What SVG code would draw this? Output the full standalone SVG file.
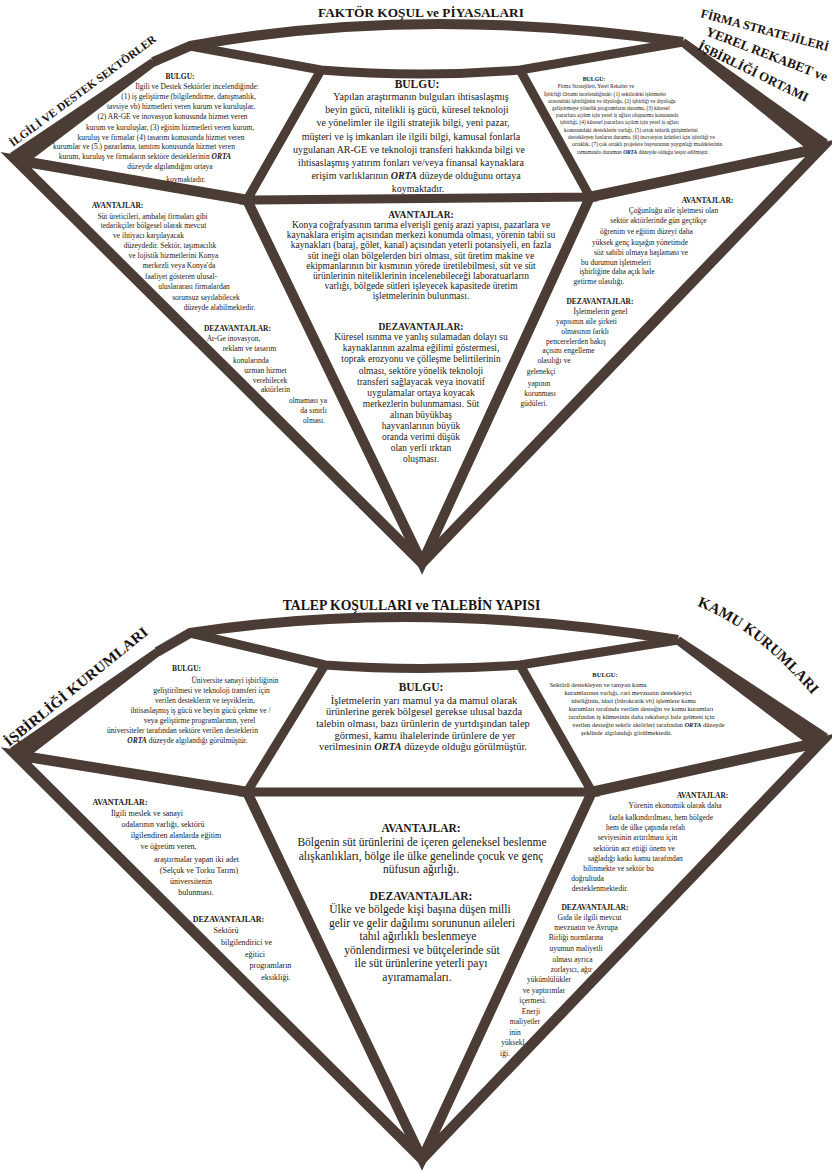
<svg xmlns="http://www.w3.org/2000/svg" width="832" height="1172" viewBox="0 0 832 1172">
<style>
.e{fill:none;stroke:#4b3d35;stroke-linejoin:miter;stroke-miterlimit:10;stroke-linecap:butt}
.w{fill:#4b3d35}
text{font-family:"Liberation Serif","Times New Roman",serif;fill:#231915}
.b{font-weight:bold}
.o{font-weight:bold;font-style:italic}
.lbl{font-weight:bold;fill:#1a1310}
.m{text-anchor:middle}
</style>
<defs>
<path id="kamuPath" d="M697,606 Q757,628 821,705"/>
</defs>
<rect width="832" height="1172" fill="#ffffff"/>

<g id="connectors">
  <!-- top diamond frame -->
  <path class="e" stroke-width="10" d="M153,62 L190,46 Q418,4 683,42"/>
  <path class="e" stroke-width="9" d="M190,46 L321,70 Q420,78 520,70 L683,42"/>
  <polygon class="w" points="10,153 151,58.5 156,65.5 22,167"/>
  <polygon class="w" points="685,38.5 828,140 815,156 680,45.5"/>
  <path class="e" stroke-width="9" d="M321,70 L247,200 L590,197 L520,70"/>
  <path class="e" stroke-width="10.5" d="M247,200 L16,160 L422,563 L821,148 L590,197"/>
  <path class="e" stroke-width="10" d="M247,200 L422,563 L590,197"/>
  <!-- bottom diamond frame -->
  <path class="e" stroke-width="10" d="M157,652 L190,633 Q420,598 678,640"/>
  <path class="e" stroke-width="9" d="M190,633 L325,665 Q420,672 520,665 L678,640"/>
  <polygon class="w" points="10,748 155,648.5 160,655.5 22,762"/>
  <polygon class="w" points="680,636.5 828,734 815,750 675,643.5"/>
  <path class="e" stroke-width="9" d="M325,665 L247,792 L592,792 L520,665"/>
  <path class="e" stroke-width="10.5" d="M247,792 L16,755 L422,1159 L821,742 L592,792"/>
  <path class="e" stroke-width="10" d="M247,792 L422,1159 L592,792"/>
</g>

<g id="title-top">
  <text class="lbl m" x="421" y="17" font-size="13.3">FAKTÖR KOŞUL ve PİYASALARI</text>
</g>
<g id="label-ilgili">
  <text class="lbl" transform="translate(13,147) rotate(-36.5)" font-size="11.3" textLength="179" lengthAdjust="spacingAndGlyphs">İLGİLİ VE DESTEK SEKTÖRLER</text>
</g>
<g id="label-firma">
  <text class="lbl" transform="translate(700,17) rotate(15)" font-size="12.2">FİRMA STRATEJİLERİ</text>
  <text class="lbl" transform="translate(705,35) rotate(21)" font-size="13.3">YEREL REKABET ve</text>
  <text class="lbl" transform="translate(697,49) rotate(26)" font-size="13">İŞBİRLİĞİ ORTAMI</text>
</g>

<g id="top-bulgu-ilgili" font-size="7.5">
  <text class="b m" x="180" y="79.4">BULGU:</text>
  <text class="m" x="197" y="89.4">İlgili ve Destek Sektörler incelendiğinde:</text>
  <text class="m" x="188.5" y="99.4">(1) iş geliştirme (bilgilendirme, danışmanlık,</text>
  <text class="m" x="181" y="109.4">tavsiye vb) hizmetleri veren kurum ve kuruluşlar,</text>
  <text class="m" x="172.5" y="119.4">(2) AR-GE ve inovasyon konusunda hizmet veren</text>
  <text class="m" x="170" y="129.9">kurum ve kuruluşlar, (3) eğitim hizmetleri veren kurum,</text>
  <text class="m" x="161" y="139.6">kuruluş ve firmalar (4) tasarım konusunda hizmet veren</text>
  <text class="m" x="144" y="149.4">kurumlar ve (5.) pazarlama, tanıtım konusunda hizmet veren</text>
  <text class="m" x="145" y="159.2">kurum, kuruluş ve firmaların sektöre desteklerinin <tspan class="o">ORTA</tspan></text>
  <text class="m" x="170" y="169">düzeyde algılandığını ortaya</text>
  <text class="m" x="186" y="181.5">koymaktadır.</text>
</g>

<g id="top-bulgu-faktor" font-size="10">
  <text class="b m" x="417" y="87.5" font-size="11.5">BULGU:</text>
  <text class="m" x="421" y="100.4">Yapılan araştırmanın bulguları ihtisaslaşmış</text>
  <text class="m" x="417" y="113.4">beyin gücü, nitelikli iş gücü, küresel teknoloji</text>
  <text class="m" x="413" y="126.4">ve yönelimler ile ilgili stratejik bilgi, yeni pazar,</text>
  <text class="m" x="411" y="140.4">müşteri ve iş imkanları ile ilgili bilgi, kamusal fonlarla</text>
  <text class="m" x="409" y="153.4">uygulanan AR-GE ve teknoloji transferi hakkında bilgi ve</text>
  <text class="m" x="411" y="166.4">ihtisaslaşmış yatırım fonları ve/veya finansal kaynaklara</text>
  <text class="m" x="416" y="179.4">erişim varlıklarının <tspan class="o">ORTA</tspan> düzeyde olduğunu ortaya</text>
  <text class="m" x="418" y="192.4">koymaktadır.</text>
</g>

<g id="top-bulgu-firma" font-size="5.4">
  <text class="b m" x="594" y="80.9" font-size="5.8">BULGU:</text>
  <text class="m" x="596" y="87.9">Firma Stratejileri, Yerel Rekabet ve</text>
  <text x="544" y="95.9">İşbirliği Ortamı incelendiğinde: (1) sektördeki işletmeler</text>
  <text x="548" y="102.9">arasındaki işbirliğinin ve diyaloğu, (2) işbirliği ve diyaloğu</text>
  <text x="552" y="109.9">geliştirmeye yönelik programların durumu, (3) küresel</text>
  <text x="556" y="116.9">pazarlara açılım için yerel iş ağları oluşturma konusunda</text>
  <text x="560" y="123.9">işbirliği, (4) küresel pazarlara açılım için yerel iş ağları</text>
  <text x="564" y="131.9">konusundaki desteklerin varlığı, (5) ortak tedarik girişimlerini</text>
  <text x="568" y="138.9">destekleyen fonların durumu, (6) inovasyon ürünleri için işbirliği ve</text>
  <text x="572" y="145.9">ortaklık, (7) çok ortaklı projelere başvurunun yaygınlığı maddelerinin</text>
  <text x="577" y="153.9">tamamında durumun <tspan class="o">ORTA</tspan> düzeyde olduğu tespit edilmiştir.</text>
</g>

<g id="top-avantaj-ilgili" font-size="7.5">
  <text class="b m" x="117.5" y="207.5">AVANTAJLAR:</text>
  <text class="m" x="152.5" y="218.5">Süt üreticileri, ambalaj firmaları gibi</text>
  <text class="m" x="153.5" y="227.5">tedarikçiler bölgesel olarak mevcut</text>
  <text class="m" x="148.5" y="237.5">ve ihtiyacı karşılayacak</text>
  <text class="m" x="170" y="247.5">düzeydedir. Sektör, taşımacılık</text>
  <text class="m" x="173.5" y="257.5">ve lojistik hizmetlerini Konya</text>
  <text class="m" x="179" y="267.5">merkezli veya Konya'da</text>
  <text class="m" x="181" y="278.5">faaliyet gösteren ulusal-</text>
  <text class="m" x="194" y="288.5">uluslararası firmalardan</text>
  <text class="m" x="206" y="299.5">sorunsuz sayılabilecek</text>
  <text class="m" x="219.5" y="309.5">düzeyde alabilmektedir.</text>
  <text class="b m" x="237.5" y="330.5">DEZAVANTAJLAR:</text>
  <text class="m" x="233.5" y="340.5">Ar-Ge inovasyon,</text>
  <text class="m" x="249.5" y="350.5">reklam ve tasarım</text>
  <text class="m" x="251" y="362.5">konularında</text>
  <text class="m" x="265.5" y="372.5">uzman hizmet</text>
  <text class="m" x="270" y="382.5">verebilecek</text>
  <text class="m" x="275.5" y="391.5">aktörlerin</text>
  <text class="m" x="308" y="402.5">olmaması ya</text>
  <text class="m" x="313.5" y="412.5">da sınırlı</text>
  <text class="m" x="314" y="422.5">olması.</text>
</g>

<g id="top-avantaj-faktor" font-size="9.5">
  <text class="b m" x="421" y="218.2">AVANTAJLAR:</text>
  <text class="m" x="421" y="228.2">Konya coğrafyasının tarıma elverişli geniş arazi yapısı, pazarlara ve</text>
  <text class="m" x="421" y="238.3">kaynaklara erişim açısından merkezi konumda olması, yörenin tabii su</text>
  <text class="m" x="421" y="248.4">kaynakları (baraj, gölet, kanal) açısından yeterli potansiyeli, en fazla</text>
  <text class="m" x="421" y="258.5">süt ineği olan bölgelerden biri olması, süt üretim makine ve</text>
  <text class="m" x="421" y="268.6">ekipmanlarının bir kısmının yörede üretilebilmesi, süt ve süt</text>
  <text class="m" x="421" y="278.7">ürünlerinin niteliklerinin incelenebileceği laboratuarların</text>
  <text class="m" x="421" y="288.8">varlığı, bölgede sütleri işleyecek kapasitede üretim</text>
  <text class="m" x="421" y="298.9">işletmelerinin bulunması.</text>
  <text class="b m" x="421" y="330.2">DEZAVANTAJLAR:</text>
  <text class="m" x="421" y="340.2">Küresel ısınma ve yanlış sulamadan dolayı su</text>
  <text class="m" x="421" y="351.3">kaynaklarının azalma eğilimi göstermesi,</text>
  <text class="m" x="421" y="362.4">toprak erozyonu ve çölleşme belirtilerinin</text>
  <text class="m" x="421" y="373.5">olması, sektöre yönelik teknoloji</text>
  <text class="m" x="421" y="384.6">transferi sağlayacak veya inovatif</text>
  <text class="m" x="421" y="395.7">uygulamalar ortaya koyacak</text>
  <text class="m" x="421" y="406.8">merkezlerin bulunmaması. Süt</text>
  <text class="m" x="421" y="417.9">alınan büyükbaş</text>
  <text class="m" x="421" y="429">hayvanlarının büyük</text>
  <text class="m" x="421" y="440.1">oranda verimi düşük</text>
  <text class="m" x="421" y="451.2">olan yerli ırktan</text>
  <text class="m" x="421" y="462.3">oluşması.</text>
</g>

<g id="top-avantaj-firma" font-size="7.5">
  <text class="b m" x="707.5" y="202.5">AVANTAJLAR:</text>
  <text class="m" x="673.5" y="212.5">Çoğunluğu aile işletmesi olan</text>
  <text class="m" x="658.5" y="222.5">sektör aktörlerinde gün geçtikçe</text>
  <text class="m" x="646.5" y="233.5">öğrenim ve eğitim düzeyi daha</text>
  <text class="m" x="640" y="244.5">yüksek genç kuşağın yönetimde</text>
  <text class="m" x="641" y="254.5">söz sahibi olmaya başlaması ve</text>
  <text class="m" x="616" y="264.5">bu durumun işletmeleri</text>
  <text class="m" x="617" y="273.5">işbirliğine daha açık hale</text>
  <text class="m" x="599" y="283.5">getirme olasılığı.</text>
  <text class="b m" x="600" y="303.5">DEZAVANTAJLAR:</text>
  <text class="m" x="600.5" y="313.5">İşletmelerin genel</text>
  <text class="m" x="586.5" y="323.5">yapısının aile şirketi</text>
  <text class="m" x="585" y="333.5">olmasının farklı</text>
  <text class="m" x="576" y="343.5">pencerelerden bakış</text>
  <text class="m" x="568.5" y="352.5">açısını engelleme</text>
  <text class="m" x="554" y="362.5">olasılığı ve</text>
  <text class="m" x="541" y="373.5">gelenekçi</text>
  <text class="m" x="539" y="385.5">yapının</text>
  <text class="m" x="540" y="395.5">korunması</text>
  <text class="m" x="534" y="405.5">güdüleri.</text>
</g>

<g id="title-bottom">
  <text class="lbl m" x="411.5" y="610" font-size="13.7">TALEP KOŞULLARI ve TALEBİN YAPISI</text>
</g>
<g id="label-isbirligi">
  <text class="lbl" transform="translate(9,747) rotate(-39)" font-size="14.5" textLength="180" lengthAdjust="spacingAndGlyphs">İŞBİRLİĞİ KURUMLARI</text>
</g>
<g id="label-kamu">
  <text class="lbl" font-size="15"><textPath href="#kamuPath">KAMU KURUMLARI</textPath></text>
</g>

<g id="bottom-bulgu-isbirligi" font-size="7.5">
  <text class="b m" x="186.5" y="670.5">BULGU:</text>
  <text class="m" x="235" y="682.5">Üniversite sanayi işbirliğinin</text>
  <text class="m" x="211.5" y="692.5">geliştirilmesi ve teknoloji transferi için</text>
  <text class="m" x="205" y="702.5">verilen desteklerin ve teşviklerin,</text>
  <text class="m" x="200.5" y="712.5">ihtisaslaşmış iş gücü ve beyin gücü çekme ve /</text>
  <text class="m" x="199.5" y="722.5">veya geliştirme programlarının, yerel</text>
  <text class="m" x="182.5" y="732.5">üniversiteler tarafından sektöre verilen desteklerin</text>
  <text class="m" x="187.5" y="742.5"><tspan class="o">ORTA</tspan> düzeyde algılandığı görülmüştür.</text>
</g>

<g id="bottom-bulgu-talep" font-size="10.5">
  <text class="b m" x="421" y="691" font-size="11.5">BULGU:</text>
  <text class="m" x="424" y="703.5">İşletmelerin yarı mamul ya da mamul olarak</text>
  <text class="m" x="424" y="715.2">ürünlerine gerek bölgesel gerekse ulusal bazda</text>
  <text class="m" x="423" y="726.9">talebin olması, bazı ürünlerin de yurtdışından talep</text>
  <text class="m" x="425" y="738.6">görmesi,  kamu ihalelerinde ürünlere de yer</text>
  <text class="m" x="423" y="750.3">verilmesinin <tspan class="o">ORTA</tspan> düzeyde olduğu görülmüştür.</text>
</g>

<g id="bottom-bulgu-kamu" font-size="6.5">
  <text class="b m" x="605" y="677.2">BULGU:</text>
  <text class="m" x="598" y="687.2">Sektörü destekleyen ve tanıyan kamu</text>
  <text class="m" x="628" y="695.2">kurumlarının varlığı, cari mevzuatın destekleyici</text>
  <text class="m" x="633.5" y="702.7">niteliğinin, idari (bürokratik vb) işlemlere kamu</text>
  <text class="m" x="641" y="710.7">kurumları tarafında verilen desteğin ve kamu kurumları</text>
  <text class="m" x="641.5" y="719.2">tarafından iş kümesinin daha rekabetçi hale gelmesi için</text>
  <text class="m" x="648.5" y="727.2">verilen desteğin sektör aktörleri tarafından <tspan class="o">ORTA</tspan> düzeyde</text>
  <text class="m" x="626.5" y="735.2">şeklinde algılandığı görülmektedir.</text>
</g>

<g id="bottom-avantaj-isbirligi" font-size="8">
  <text class="b m" x="120" y="804.7">AVANTAJLAR:</text>
  <text class="m" x="147" y="815.7">İlgili meslek ve sanayi</text>
  <text class="m" x="163" y="826.7">odalarının varlığı, sektörü</text>
  <text class="m" x="176" y="837.7">ilgilendiren alanlarda eğitim</text>
  <text class="m" x="168.5" y="848.7">ve öğretim veren,</text>
  <text class="m" x="196.5" y="861.7">araştırmalar yapan iki adet</text>
  <text class="m" x="199" y="872.7">(Selçuk ve Torku Tarım)</text>
  <text class="m" x="191" y="883.7">üniversitenin</text>
  <text class="m" x="196" y="894.7">bulunması.</text>
  <text class="b m" x="228.5" y="921.7">DEZAVANTAJLAR:</text>
  <text class="m" x="226" y="932.7">Sektörü</text>
  <text class="m" x="246.5" y="944.7">bilgilendirici ve</text>
  <text class="m" x="255" y="956.7">eğitici</text>
  <text class="m" x="270.5" y="967.7">programların</text>
  <text class="m" x="276" y="979.7">eksikliği.</text>
</g>

<g id="bottom-avantaj-talep" font-size="11.5">
  <text class="b m" x="421" y="831.9">AVANTAJLAR:</text>
  <text class="m" x="422" y="845.9">Bölgenin süt ürünlerini de içeren geleneksel beslenme</text>
  <text class="m" x="421" y="859.9">alışkanlıkları, bölge ile ülke genelinde çocuk ve genç</text>
  <text class="m" x="421" y="872.9">nüfusun ağırlığı.</text>
  <text class="b m" x="421" y="899.9">DEZAVANTAJLAR:</text>
  <text class="m" x="420" y="912.9">Ülke ve bölgede kişi başına düşen milli</text>
  <text class="m" x="422" y="926.5">gelir ve gelir dağılımı sorununun aileleri</text>
  <text class="m" x="418" y="940.1">tahıl ağırlıklı beslenmeye</text>
  <text class="m" x="422" y="953.7">yönlendirmesi ve bütçelerinde süt</text>
  <text class="m" x="421" y="967.3">ile süt ürünlerine yeterli payı</text>
  <text class="m" x="417" y="980.9">ayıramamaları.</text>
</g>

<g id="bottom-avantaj-kamu" font-size="7.5">
  <text class="b m" x="702.5" y="797.5">AVANTAJLAR:</text>
  <text class="m" x="675" y="807.5">Yörenin ekonomik olarak daha</text>
  <text class="m" x="661" y="819.5">fazla kalkındırılması, hem bölgede</text>
  <text class="m" x="645.5" y="829.5">hem de ülke çapında refah</text>
  <text class="m" x="637.5" y="839.5">seviyesinin artırılması için</text>
  <text class="m" x="634" y="850.5">sektörün arz ettiği önem ve</text>
  <text class="m" x="635.5" y="860.5">sağladığı katkı kamu tarafından</text>
  <text class="m" x="618.5" y="870.5">bilinmekte ve sektör bu</text>
  <text class="m" x="587.5" y="880.5">doğrultuda</text>
  <text class="m" x="600" y="890.5">desteklenmektedir.</text>
  <text class="b m" x="595" y="909.5">DEZAVANTAJLAR:</text>
  <text class="m" x="589.5" y="919.5">Gıda ile ilgili mevcut</text>
  <text class="m" x="586" y="929.5">mevzuatın ve Avrupa</text>
  <text class="m" x="576" y="939.5">Birliği normlarına</text>
  <text class="m" x="576" y="950.5">uyumun maliyetli</text>
  <text class="m" x="572.5" y="961.5">olması ayrıca</text>
  <text class="m" x="571.5" y="971.5">zorlayıcı, ağır</text>
  <text class="m" x="549" y="982">yükümlülükler</text>
  <text class="m" x="544" y="992.5">ve yaptırımlar</text>
  <text class="m" x="533" y="1003">içermesi.</text>
  <text class="m" x="531" y="1013.5">Enerji</text>
  <text class="m" x="525" y="1024">maliyetler</text>
  <text class="m" x="515" y="1034.5">inin</text>
  <text class="m" x="513" y="1045">yüksekl</text>
  <text class="m" x="505" y="1055.5">iği.</text>
</g>
</svg>
